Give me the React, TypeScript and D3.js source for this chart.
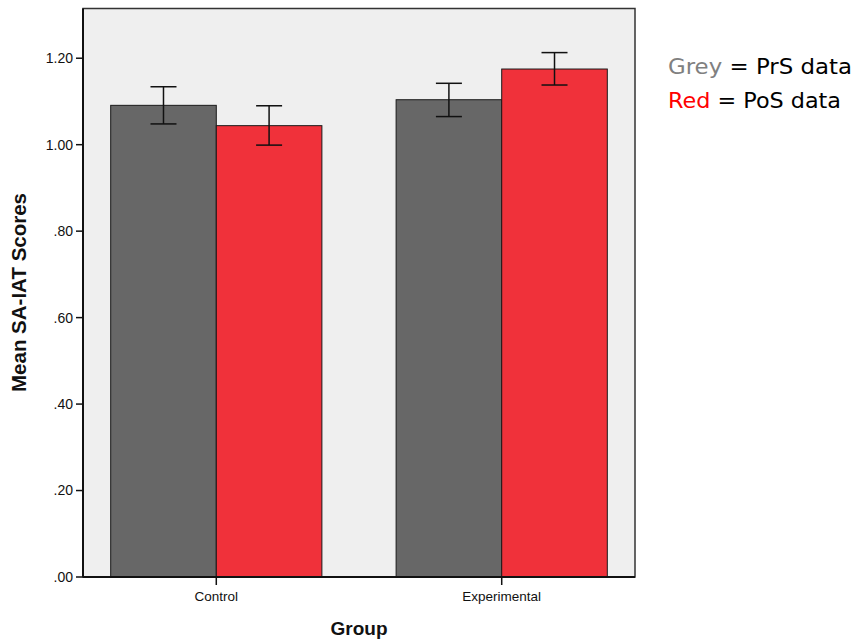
import React from "react";
import * as d3 from "d3";

const groups = ["Control", "Experimental"];
const series = ["PrS", "PoS"];
const means = [
  [1.091, 1.044],
  [1.104, 1.175],
];
const lows = [
  [1.048, 0.999],
  [1.065, 1.138],
];
const highs = [
  [1.134, 1.09],
  [1.142, 1.213],
];
const yTicks = [0, 0.2, 0.4, 0.6, 0.8, 1.0, 1.2];
const colors = ["#676767", "#F0313A"];

export default function App() {
  const W = 856, H = 639;
  const left = 83, right = 635, top = 8.5, bottom = 577;
  const y = d3.scaleLinear().domain([0, 1.315]).range([bottom, top]);
  const x = d3.scalePoint<string>().domain(groups).range([left, right]).padding(0.467);
  const inner = d3.scaleBand<string>().domain(series).range([-105.6, 105.6]).padding(0);
  const fmt = (v: number) => d3.format(".2f")(v).replace(/^0/, "");
  const cap = 13;
  return (
    <svg width={W} height={H} style={{ position: "absolute", left: 0, top: 0 }} fontFamily="'Liberation Sans', Arial, sans-serif">
      <rect x={0} y={0} width={W} height={H} fill="#fff" />
      <rect x={left} y={top} width={right - left} height={bottom - top} fill="#EFEFEF" stroke="#333" strokeWidth={1.5} />
      {groups.map((g, gi) =>
        series.map((s, si) => {
          const bx = (x(g) as number) + (inner(s) as number);
          const bw = inner.bandwidth();
          const cx = bx + bw / 2;
          return (
            <g key={g + s}>
              <rect x={bx} y={y(means[gi][si])} width={bw} height={bottom - y(means[gi][si])} fill={colors[si]} stroke="#1a1a1a" strokeWidth={1} />
              <line x1={cx} x2={cx} y1={y(highs[gi][si])} y2={y(lows[gi][si])} stroke="#111" strokeWidth={1.5} />
              <line x1={cx - cap} x2={cx + cap} y1={y(highs[gi][si])} y2={y(highs[gi][si])} stroke="#111" strokeWidth={1.5} />
              <line x1={cx - cap} x2={cx + cap} y1={y(lows[gi][si])} y2={y(lows[gi][si])} stroke="#111" strokeWidth={1.5} />
            </g>
          );
        })
      )}
      <line x1={left} x2={left} y1={top} y2={bottom} stroke="#111" strokeWidth={2} />
      <line x1={left} x2={right} y1={bottom} y2={bottom} stroke="#111" strokeWidth={2} />
      {yTicks.map((t) => (
        <g key={t}>
          <line x1={left - 7} x2={left} y1={y(t)} y2={y(t)} stroke="#111" strokeWidth={1.5} />
          <text x={left - 10} y={y(t)} dy="0.35em" textAnchor="end" fontSize={14} fill="#111">{fmt(t)}</text>
        </g>
      ))}
      {groups.map((g) => (
        <g key={g}>
          <line x1={x(g)} x2={x(g)} y1={bottom} y2={bottom + 8} stroke="#111" strokeWidth={1.5} />
          <text x={x(g)} y={601} textAnchor="middle" fontSize={13.5} fill="#111">{g}</text>
        </g>
      ))}
      <text x={359} y={635} textAnchor="middle" fontSize={19} fontWeight="bold" fill="#111">Group</text>
      <text transform={`translate(26, ${292.5}) rotate(-90)`} textAnchor="middle" fontSize={20} fontWeight="bold" fill="#111" textLength={199} lengthAdjust="spacingAndGlyphs">Mean SA-IAT Scores</text>
      <g fontFamily="'Comic Sans MS', 'DejaVu Sans', sans-serif" fontSize={22}>
        <text x={668} y={74} textLength={184} lengthAdjust="spacingAndGlyphs" fill="#000">
          <tspan fill="#808080">Grey</tspan> = PrS data
        </text>
        <text x={668} y={108} textLength={173} lengthAdjust="spacingAndGlyphs" fill="#000">
          <tspan fill="#FF0000">Red</tspan> = PoS data
        </text>
      </g>
    </svg>
  );
}
